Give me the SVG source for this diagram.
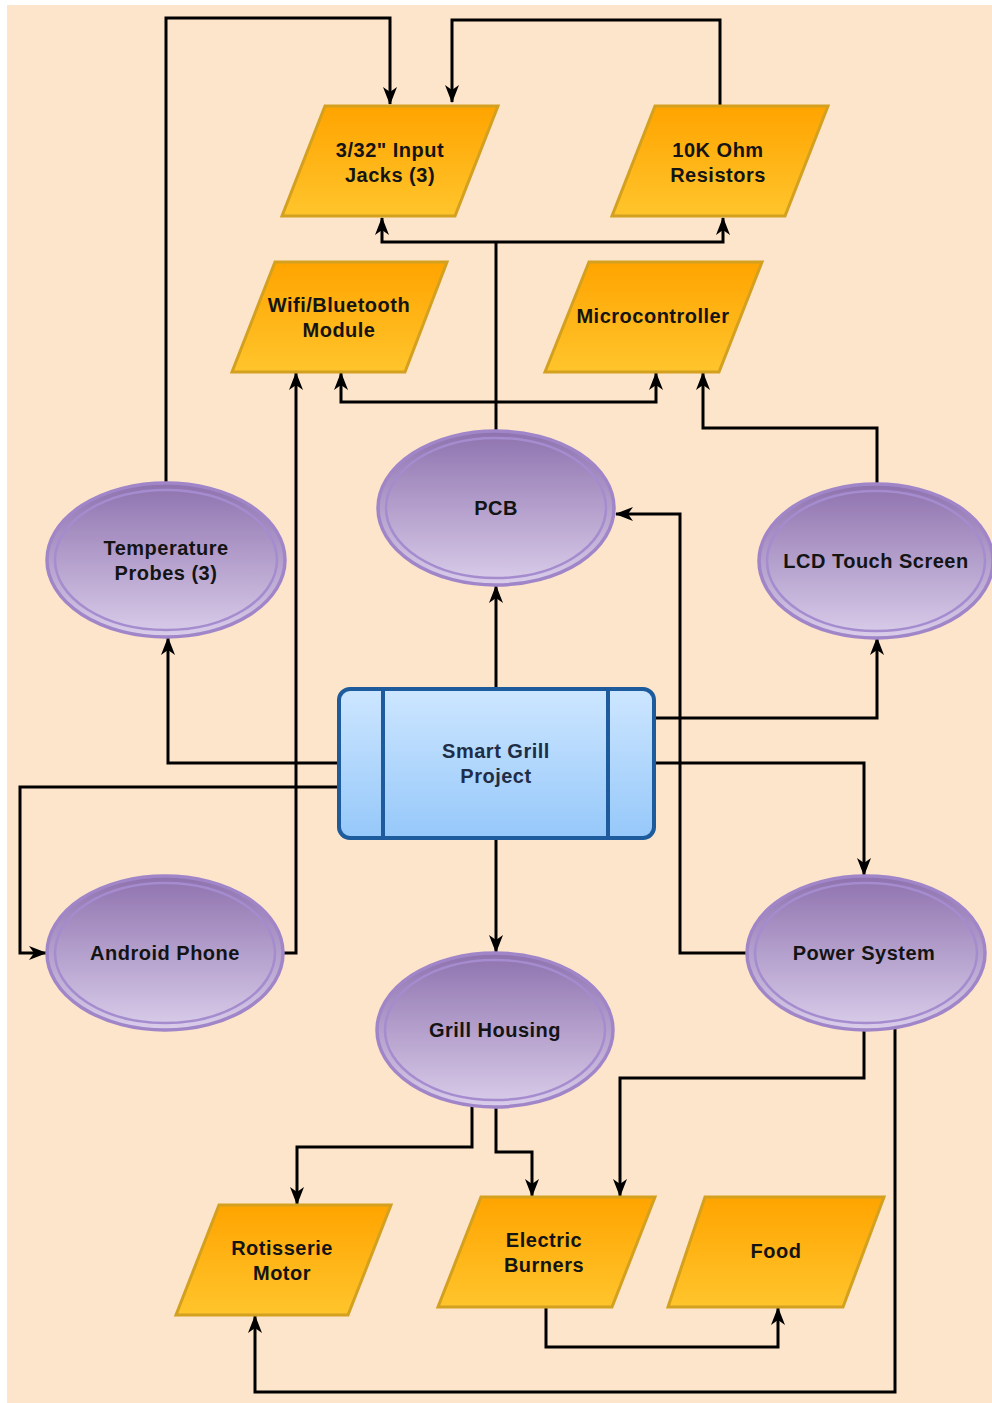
<svg xmlns="http://www.w3.org/2000/svg" width="992" height="1403" viewBox="0 0 992 1403">
<defs>
<linearGradient id="gOr" x1="0" y1="0" x2="0" y2="1"><stop offset="0" stop-color="#FFA400"/><stop offset="1" stop-color="#FFC52C"/></linearGradient>
<linearGradient id="gPu" x1="0" y1="0" x2="0" y2="1"><stop offset="0" stop-color="#8E72AE"/><stop offset="1" stop-color="#DACDEA"/></linearGradient>
<linearGradient id="gBl" x1="0" y1="0" x2="0" y2="1"><stop offset="0" stop-color="#CDE6FF"/><stop offset="1" stop-color="#96C8FA"/></linearGradient>
<marker id="arr" viewBox="0 0 18 14" refX="17" refY="7" markerWidth="18" markerHeight="14" markerUnits="userSpaceOnUse" orient="auto">
<path d="M0,0 L18,7 L0,14 L5,7 Z" fill="#000"/>
</marker>
<style>
.para{fill:url(#gOr);stroke:#D4A020;stroke-width:3}
.ell{fill:url(#gPu);stroke:#A086C8;stroke-width:3.5}
.ein{fill:none;stroke:#A58CCF;stroke-width:2.5}
.t{font-family:"Liberation Sans",Arial,Helvetica,sans-serif;font-weight:bold;font-size:20px;fill:#141414;text-anchor:middle;letter-spacing:0.5px}
.e{fill:none;stroke:#000;stroke-width:3;marker-end:url(#arr)}
.n{fill:none;stroke:#000;stroke-width:3}
</style>
</defs>
<rect x="0" y="0" width="992" height="1403" fill="#FFFFFF"/>
<rect x="7" y="5" width="985" height="1398" fill="#FDE5CB"/>

<g id="connectors">
<path class="e" d="M166,483 V18 H390 V104"/>
<path class="e" d="M720,106 V20 H452 V102"/>
<path class="n" d="M496,430 V242"/>
<path class="e" d="M496,242 H382 V218"/>
<path class="e" d="M496,242 H723 V218"/>
<path class="e" d="M496,402 H341 V373"/>
<path class="e" d="M496,402 H656 V373"/>
<path class="e" d="M877,484 V428 H703 V373"/>
<path class="e" d="M496,688 V586"/>
<path class="e" d="M338,763 H168 V638"/>
<path class="e" d="M338,787 H20 V953 H46"/>
<path class="e" d="M283,953 H296 V373"/>
<path class="e" d="M655,718 H877 V638"/>
<path class="e" d="M655,763 H864 V875"/>
<path class="e" d="M747,953 H680 V514 H616"/>
<path class="e" d="M496,839 V952"/>
<path class="e" d="M472,1106 V1147 H297 V1204"/>
<path class="e" d="M496,1106 V1152 H532 V1196"/>
<path class="e" d="M864,1030 V1078 H620 V1196"/>
<path class="e" d="M895,1028 V1392 H255 V1316"/>
<path class="e" d="M546,1307 V1347 H778 V1308"/>
</g>

<g id="input-jacks">
<polygon class="para" points="325,106 498,106 455,216 282,216"/>
<text class="t" x="390" y="157">3/32" Input</text>
<text class="t" x="390" y="182">Jacks (3)</text>
</g>
<g id="resistors">
<polygon class="para" points="655,106 828,106 785,216 612,216"/>
<text class="t" x="718" y="157">10K Ohm</text>
<text class="t" x="718" y="182">Resistors</text>
</g>
<g id="wifi">
<polygon class="para" points="275,262 447,262 405,372 232,372"/>
<text class="t" x="339" y="312">Wifi/Bluetooth</text>
<text class="t" x="339" y="337">Module</text>
</g>
<g id="microcontroller">
<polygon class="para" points="589,262 762,262 719,372 545,372"/>
<text class="t" x="653" y="323">Microcontroller</text>
</g>

<g id="pcb">
<ellipse class="ell" cx="496" cy="508" rx="118" ry="77"/>
<ellipse class="ein" cx="496" cy="508" rx="110" ry="70"/>
<text class="t" x="496" y="515">PCB</text>
</g>
<g id="temp-probes">
<ellipse class="ell" cx="166" cy="560" rx="119" ry="77"/>
<ellipse class="ein" cx="166" cy="560" rx="111" ry="70"/>
<text class="t" x="166" y="555">Temperature</text>
<text class="t" x="166" y="580">Probes (3)</text>
</g>
<g id="lcd">
<ellipse class="ell" cx="876" cy="561" rx="117" ry="77"/>
<ellipse class="ein" cx="876" cy="561" rx="109" ry="70"/>
<text class="t" x="876" y="568">LCD Touch Screen</text>
</g>

<g id="smart-grill">
<rect x="339" y="689" width="315" height="149" rx="11" ry="11" fill="url(#gBl)" stroke="#1D5B9C" stroke-width="4"/>
<line x1="383" y1="689" x2="383" y2="838" stroke="#1D5B9C" stroke-width="4"/>
<line x1="608" y1="689" x2="608" y2="838" stroke="#1D5B9C" stroke-width="4"/>
<text class="t" x="496" y="758" style="fill:#1E2D48">Smart Grill</text>
<text class="t" x="496" y="783" style="fill:#1E2D48">Project</text>
</g>

<g id="android">
<ellipse class="ell" cx="165" cy="953" rx="118" ry="77"/>
<ellipse class="ein" cx="165" cy="953" rx="110" ry="70"/>
<text class="t" x="165" y="960">Android Phone</text>
</g>
<g id="power">
<ellipse class="ell" cx="866" cy="953" rx="119" ry="77"/>
<ellipse class="ein" cx="866" cy="953" rx="111" ry="70"/>
<text class="t" x="864" y="960">Power System</text>
</g>
<g id="grill-housing">
<ellipse class="ell" cx="495" cy="1030" rx="118" ry="77"/>
<ellipse class="ein" cx="495" cy="1030" rx="110" ry="70"/>
<text class="t" x="495" y="1037">Grill Housing</text>
</g>

<g id="rotisserie">
<polygon class="para" points="219,1205 391,1205 348,1315 176,1315"/>
<text class="t" x="282" y="1255">Rotisserie</text>
<text class="t" x="282" y="1280">Motor</text>
</g>
<g id="burners">
<polygon class="para" points="481,1197 655,1197 612,1307 438,1307"/>
<text class="t" x="544" y="1247">Electric</text>
<text class="t" x="544" y="1272">Burners</text>
</g>
<g id="food">
<polygon class="para" points="705,1197 884,1197 843,1307 668,1307"/>
<text class="t" x="776" y="1258">Food</text>
</g>
</svg>
